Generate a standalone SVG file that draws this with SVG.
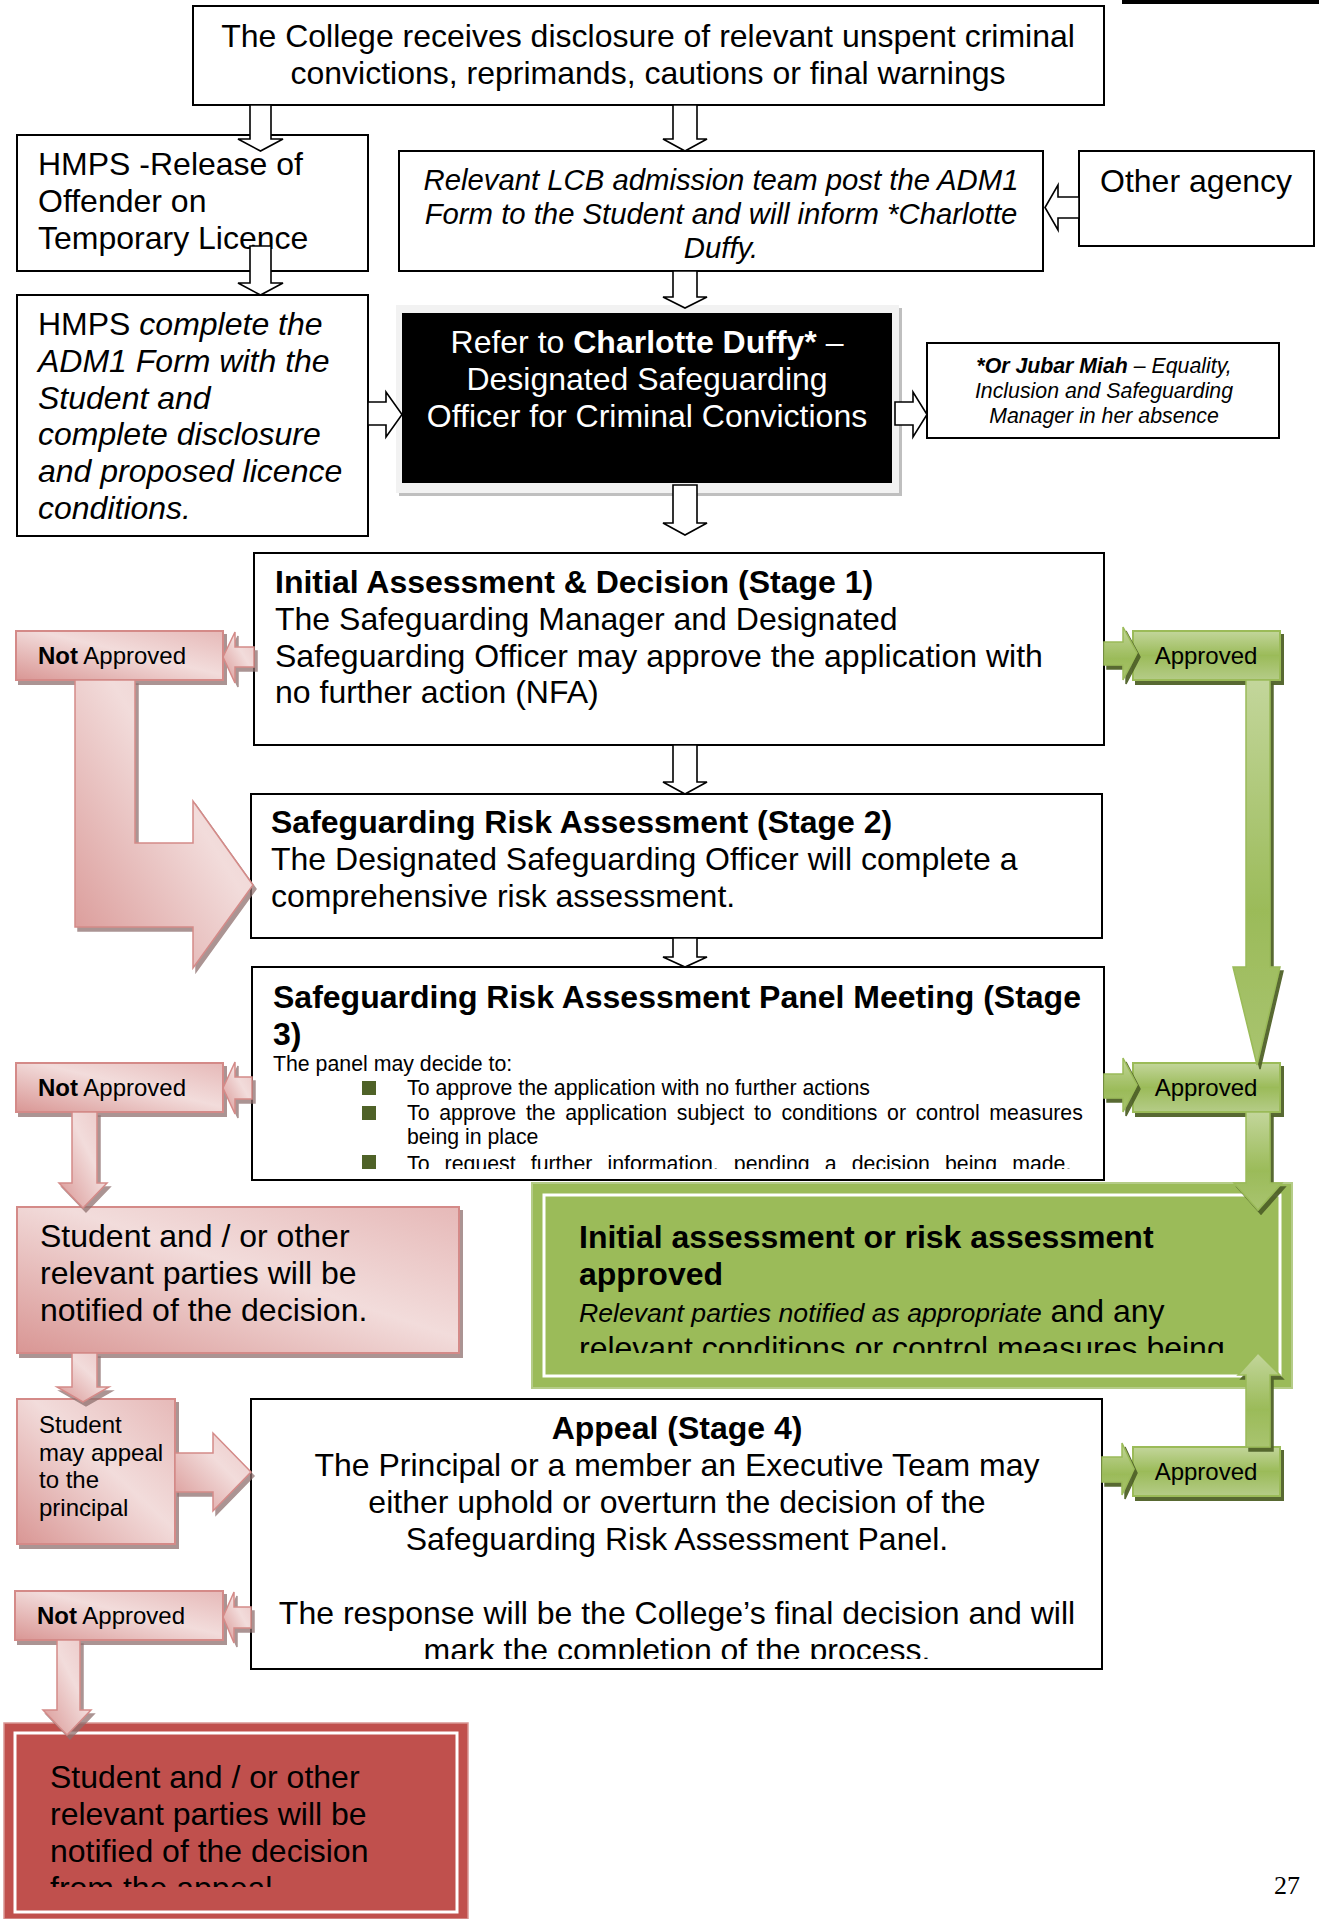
<svg xmlns="http://www.w3.org/2000/svg" width="1319" height="1919" viewBox="0 0 1319 1919">
<defs>
<style>
.t{font-family:"Liberation Sans",Arial,sans-serif;fill:#000}
.w{fill:#fff}
.f32{font-size:32px}
.f29{font-size:29.3px}
.f24{font-size:24px}
.f21{font-size:21.3px}
.b{font-weight:bold}
.i{font-style:italic}
.box{fill:#fff;stroke:#000;stroke-width:2}
.ha{fill:#fff;stroke:#000;stroke-width:1.6;stroke-linejoin:miter}
.pk{fill:url(#pinkG);stroke:#D48A88;stroke-width:2;filter:url(#shP)}
.gr{fill:url(#greenG);stroke:#9BBB59;stroke-width:2;filter:url(#shG)}
.pka{fill:url(#pinkA);stroke:#D48A88;stroke-width:1.5;filter:url(#shP)}
.gra{fill:url(#greenA);stroke:#9BBB59;stroke-width:1.5;filter:url(#shG)}
.bul{fill:#4F6228}
</style>
<linearGradient id="pinkG" x1="0" y1="1" x2="1" y2="0">
<stop offset="0" stop-color="#D99694"/>
<stop offset="0.55" stop-color="#F2DCDB"/>
<stop offset="1" stop-color="#E6B9B8"/>
</linearGradient>
<linearGradient id="pinkA" x1="0" y1="1" x2="1" y2="0">
<stop offset="0" stop-color="#D99694"/>
<stop offset="0.6" stop-color="#F2DCDB"/>
<stop offset="1" stop-color="#EBC7C6"/>
</linearGradient>
<linearGradient id="greenG" x1="0" y1="0" x2="0" y2="1">
<stop offset="0" stop-color="#C3D69B"/>
<stop offset="0.5" stop-color="#9BBB59"/>
<stop offset="1" stop-color="#B5CC88"/>
</linearGradient>
<linearGradient id="greenA" x1="0" y1="0" x2="0" y2="1">
<stop offset="0" stop-color="#C3D69B"/>
<stop offset="0.6" stop-color="#9BBB59"/>
<stop offset="1" stop-color="#A9C470"/>
</linearGradient>
<filter id="shP" x="-20%" y="-20%" width="140%" height="140%">
<feDropShadow dx="3" dy="4" stdDeviation="0.6" flood-color="#8F6F6E" flood-opacity="0.75"/>
</filter>
<filter id="shG" x="-20%" y="-20%" width="140%" height="140%">
<feDropShadow dx="3" dy="4" stdDeviation="0.6" flood-color="#4F6228" flood-opacity="0.95"/>
</filter>
<clipPath id="c3"><rect x="252" y="967" width="852" height="202"/></clipPath>
<clipPath id="cg"><rect x="532" y="1183" width="760" height="170"/></clipPath>
<clipPath id="c4"><rect x="251" y="1399" width="851" height="260"/></clipPath>
<clipPath id="cr"><rect x="4" y="1723" width="464" height="164"/></clipPath>
</defs>

<rect x="1122" y="0" width="197" height="4" fill="#000"/>

<g id="n-college">
<rect class="box" x="193" y="6" width="911" height="99"/>
<text class="t f32" x="648" y="47" text-anchor="middle">The College receives disclosure of relevant unspent criminal</text>
<text class="t f32" x="648" y="84" text-anchor="middle">convictions, reprimands, cautions or final warnings</text>
</g>

<g id="n-hmps-release">
<rect class="box" x="17" y="135" width="351" height="136"/>
<text class="t f32" x="38" y="175">HMPS -Release of</text>
<text class="t f32" x="38" y="212">Offender on</text>
<text class="t f32" x="38" y="249">Temporary Licence</text>
</g>

<g id="n-lcb">
<rect class="box" x="399" y="151" width="644" height="120"/>
<text class="t f29 i" x="721" y="190" text-anchor="middle">Relevant LCB admission team post the ADM1</text>
<text class="t f29 i" x="721" y="224" text-anchor="middle">Form to the Student and will inform *Charlotte</text>
<text class="t f29 i" x="721" y="258" text-anchor="middle">Duffy.</text>
</g>

<g id="n-other">
<rect class="box" x="1079" y="151" width="235" height="95"/>
<text class="t f32" x="1100" y="192">Other agency</text>
</g>

<g id="n-hmps-complete">
<rect class="box" x="17" y="295" width="351" height="241"/>
<text class="t f32" x="38" y="335">HMPS <tspan class="i">complete the</tspan></text>
<text class="t f32 i" x="38" y="372">ADM1 Form with the</text>
<text class="t f32 i" x="38" y="409">Student and</text>
<text class="t f32 i" x="38" y="445">complete disclosure</text>
<text class="t f32 i" x="38" y="482">and proposed licence</text>
<text class="t f32 i" x="38" y="519">conditions.</text>
</g>

<g id="n-refer">
<rect x="399" y="308" width="503" height="188" fill="#BFBFBF"/>
<rect x="396" y="305" width="503" height="188" fill="#F2F2F2"/>
<rect x="402" y="313" width="490" height="170" fill="#000"/>
<text class="t w f32" x="647" y="353" text-anchor="middle">Refer to <tspan class="b">Charlotte Duffy*</tspan> –</text>
<text class="t w f32" x="647" y="390" text-anchor="middle">Designated Safeguarding</text>
<text class="t w f32" x="647" y="427" text-anchor="middle">Officer for Criminal Convictions</text>
</g>

<g id="n-jubar">
<rect class="box" x="927" y="343" width="352" height="95"/>
<text class="t i" style="font-size:21.3px" x="1104" y="373" text-anchor="middle"><tspan class="b">*Or Jubar Miah</tspan> – Equality,</text>
<text class="t i" style="font-size:21.3px" x="1104" y="398" text-anchor="middle">Inclusion and Safeguarding</text>
<text class="t i" style="font-size:21.3px" x="1104" y="423" text-anchor="middle">Manager in her absence</text>
</g>

<g id="n-stage1">
<rect class="box" x="254" y="553" width="850" height="192"/>
<text class="t f32 b" x="275" y="593">Initial Assessment &amp; Decision (Stage 1)</text>
<text class="t f32" x="275" y="630">The Safeguarding Manager and Designated</text>
<text class="t f32" x="275" y="667">Safeguarding Officer may approve the application with</text>
<text class="t f32" x="275" y="703">no further action (NFA)</text>
</g>

<g id="n-stage2">
<rect class="box" x="251" y="794" width="851" height="144"/>
<text class="t f32 b" x="271" y="833">Safeguarding Risk Assessment (Stage 2)</text>
<text class="t f32" x="271" y="870">The Designated Safeguarding Officer will complete a</text>
<text class="t f32" x="271" y="907">comprehensive risk assessment.</text>
</g>

<g id="n-stage3">
<rect class="box" x="252" y="967" width="852" height="213"/>
<g clip-path="url(#c3)">
<text class="t f32 b" x="273" y="1008">Safeguarding Risk Assessment Panel Meeting (Stage</text>
<text class="t f32 b" x="273" y="1045">3)</text>
<text class="t f21" x="273" y="1071">The panel may decide to:</text>
<rect class="bul" x="362" y="1081" width="14" height="14"/>
<text class="t f21" x="407" y="1095">To approve the application with no further actions</text>
<rect class="bul" x="362" y="1106" width="14" height="14"/>
<text class="t f21" x="407" y="1120" style="word-spacing:3.8px">To approve the application subject to conditions or control measures</text>
<text class="t f21" x="407" y="1144">being in place</text>
<rect class="bul" x="362" y="1155" width="14" height="14"/>
<text class="t f21" x="407" y="1171" style="word-spacing:9.2px">To request further information, pending a decision being made.</text>
</g>
</g>

<g id="n-approved-box">
<rect x="532" y="1183" width="760" height="205" fill="#9BBB59" stroke="#B5CC88" stroke-width="2"/>
<rect x="544" y="1195" width="736" height="181" fill="none" stroke="#fff" stroke-width="3"/>
<g clip-path="url(#cg)">
<text class="t f32 b" x="579" y="1248">Initial assessment or risk assessment</text>
<text class="t f32 b" x="579" y="1285">approved</text>
<text class="t f32" x="579" y="1322"><tspan class="i" style="font-size:26.6px">Relevant parties notified as appropriate</tspan> and any</text>
<text class="t f32" x="579" y="1359">relevant conditions or control measures being</text>
</g>
</g>

<g id="n-notified1">
<rect class="pk" x="17" y="1207" width="442" height="146"/>
<text class="t f32" x="40" y="1247">Student and / or other</text>
<text class="t f32" x="40" y="1284">relevant parties will be</text>
<text class="t f32" x="40" y="1321">notified of the decision.</text>
</g>

<g id="n-appeal-note">
<rect class="pk" x="17" y="1399" width="158" height="145"/>
<text class="t f24" x="39" y="1433">Student</text>
<text class="t f24" x="39" y="1461">may appeal</text>
<text class="t f24" x="39" y="1488">to the</text>
<text class="t f24" x="39" y="1516">principal</text>
</g>

<g id="n-stage4">
<rect class="box" x="251" y="1399" width="851" height="270"/>
<g clip-path="url(#c4)">
<text class="t f32 b" x="677" y="1439" text-anchor="middle">Appeal (Stage 4)</text>
<text class="t f32" x="677" y="1476" text-anchor="middle">The Principal or a member an Executive Team may</text>
<text class="t f32" x="677" y="1513" text-anchor="middle">either uphold or overturn the decision of the</text>
<text class="t f32" x="677" y="1550" text-anchor="middle">Safeguarding Risk Assessment Panel.</text>
<text class="t f32" x="677" y="1624" text-anchor="middle">The response will be the College’s final decision and will</text>
<text class="t f32" x="677" y="1661" text-anchor="middle">mark the completion of the process.</text>
</g>
</g>

<g id="n-notified2">
<rect x="4" y="1723" width="464" height="196" fill="#C0504D" stroke="#D99694" stroke-width="1.5"/>
<rect x="15" y="1733" width="442" height="179" fill="none" stroke="#fff" stroke-width="3"/>
<g clip-path="url(#cr)">
<text class="t f32" x="50" y="1788">Student and / or other</text>
<text class="t f32" x="50" y="1825">relevant parties will be</text>
<text class="t f32" x="50" y="1862">notified of the decision</text>
<text class="t f32" x="50" y="1899">from the appeal</text>
</g>
</g>

<g id="n-notapproved1">
<rect class="pk" x="16" y="631" width="207" height="49"/>
<text class="t f24" x="38" y="664"><tspan class="b">Not</tspan> Approved</text>
</g>
<g id="n-notapproved2">
<rect class="pk" x="16" y="1063" width="207" height="49"/>
<text class="t f24" x="38" y="1096"><tspan class="b">Not</tspan> Approved</text>
</g>
<g id="n-notapproved3">
<rect class="pk" x="15" y="1591" width="208" height="49"/>
<text class="t f24" x="37" y="1624"><tspan class="b">Not</tspan> Approved</text>
</g>
<g id="n-approved1">
<rect class="gr" x="1133" y="631" width="147" height="49"/>
<text class="t f24" x="1206" y="664" text-anchor="middle">Approved</text>
</g>
<g id="n-approved2">
<rect class="gr" x="1133" y="1063" width="147" height="49"/>
<text class="t f24" x="1206" y="1096" text-anchor="middle">Approved</text>
</g>
<g id="n-approved3">
<rect class="gr" x="1133" y="1447" width="147" height="49"/>
<text class="t f24" x="1206" y="1480" text-anchor="middle">Approved</text>
</g>

<text x="1274" y="1894" style="font-family:'Liberation Serif','Times New Roman',serif;font-size:26px;fill:#000">27</text>

<g id="connectors">
<path class="ha" d="M250 105 H271 V139 H283 L260.5 151 L238 139 H250 Z"/>
<path class="ha" d="M673 105 H697 V139 H707 L685 151 L663 139 H673 Z"/>
<path class="ha" d="M250 246 H271 V283 H283 L260.5 295 L238 283 H250 Z"/>
<path class="ha" d="M673 271 H697 V297 H707 L685 308 L663 297 H673 Z"/>
<path class="ha" d="M1079 197 H1058 V185 L1045 207.5 L1058 230 V218 H1079 Z"/>
<path class="ha" d="M368 402 H386 V392 L402 414.5 L386 437 V425 H368 Z"/>
<path class="ha" d="M895 402 H913 V392 L927 414.5 L913 437 V425 H895 Z"/>
<path class="ha" d="M673 485 H697 V523 H707 L685 535 L663 523 H673 Z"/>
<path class="ha" d="M673 745 H697 V782 H707 L685 794 L663 782 H673 Z"/>
<path class="ha" d="M673 938 H697 V957 H707 L685 967 L663 957 H673 Z"/>

<path class="pka" d="M254 647 H235 V632 L223 657 L235 683 V667 H254 Z"/>
<path class="pka" d="M75 680 H135 V843 H193 V801 L253 885 L193 968 V927 H75 Z"/>
<path class="pka" d="M252 1077 H235 V1062 L223 1088 L235 1114 V1099 H252 Z"/>
<path class="pka" d="M72 1112 H97 V1183 H107 L83 1208 L59 1183 H72 Z"/>
<path class="pka" d="M72 1353 H97 V1387 H109 L83 1402 L57 1387 H72 Z"/>
<path class="pka" d="M175 1453 H213 V1433 L251 1472 L213 1511 V1492 H175 Z"/>
<path class="pka" d="M251 1607 H234 V1592 L223 1617 L234 1643 V1628 H251 Z"/>
<path class="pka" d="M57 1640 H80 V1710 H91 L67 1735 L43 1710 H57 Z"/>

<path class="gra" d="M1104 642 H1123 V627 L1137 653 L1123 680 V665 H1104 Z"/>
<path class="gra" d="M1246 680 H1270 V967 H1280 L1257 1065 L1233 967 H1246 Z"/>
<path class="gra" d="M1104 1074 H1123 V1058 L1137 1085 L1123 1112 V1098 H1104 Z"/>
<path class="gra" d="M1246 1112 H1270 V1183 H1282 L1258 1210 L1234 1183 H1246 Z"/>
<path class="gra" d="M1246 1447 V1375 H1238 L1258 1353 L1280 1375 H1270 V1447 Z"/>
<path class="gra" d="M1102 1457 H1122 V1443 L1134 1469 L1122 1495 V1482 H1102 Z"/>
</g>
</svg>
